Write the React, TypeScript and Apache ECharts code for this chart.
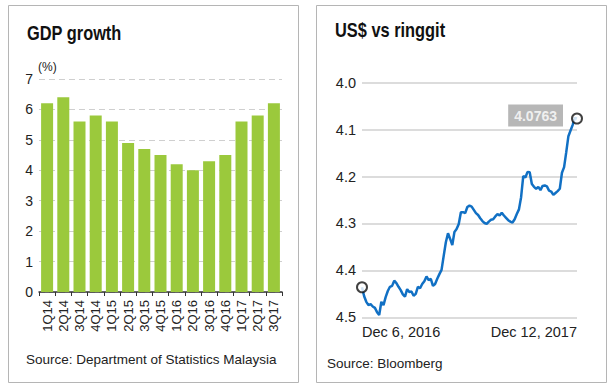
import React, { useEffect, useRef } from "react";
import * as echarts from "echarts";

const gdpQuarters = ["1Q14", "2Q14", "3Q14", "4Q14", "1Q15", "2Q15", "3Q15", "4Q15", "1Q16", "2Q16", "3Q16", "4Q16", "1Q17", "2Q17", "3Q17"];
const gdpGrowth = [6.2, 6.4, 5.6, 5.8, 5.6, 4.9, 4.7, 4.5, 4.2, 4.0, 4.3, 4.5, 5.6, 5.8, 6.2];
const gdpTicks = [0, 1, 2, 3, 4, 5, 6, 7];

const fxAxisLabels = ["Dec 6, 2016", "Dec 12, 2017"];
const fxTicks = [4.0, 4.1, 4.2, 4.3, 4.4, 4.5];
const usdMyr = [
  4.436, 4.455, 4.467, 4.474, 4.472, 4.477, 4.480, 4.489, 4.495, 4.467,
  4.474, 4.457, 4.444, 4.435, 4.433, 4.422, 4.427, 4.435, 4.442, 4.451,
  4.456, 4.440, 4.446, 4.445, 4.454, 4.450, 4.435, 4.438, 4.429, 4.423,
  4.413, 4.421, 4.418, 4.433, 4.429, 4.418, 4.408, 4.399, 4.369, 4.340,
  4.321, 4.333, 4.346, 4.318, 4.312, 4.301, 4.276, 4.276, 4.278, 4.265,
  4.262, 4.264, 4.271, 4.278, 4.282, 4.289, 4.295, 4.299, 4.301, 4.296,
  4.292, 4.291, 4.285, 4.280, 4.283, 4.277, 4.283, 4.288, 4.293, 4.296,
  4.298, 4.291, 4.280, 4.270, 4.244, 4.199, 4.202, 4.190, 4.191, 4.216,
  4.222, 4.226, 4.222, 4.229, 4.220, 4.219, 4.221, 4.230, 4.232, 4.239,
  4.235, 4.231, 4.226, 4.192, 4.180, 4.148, 4.114, 4.102, 4.090, 4.075,
  4.0763,
];

const SANS = "'Liberation Sans', Arial, Helvetica, sans-serif";

export default function App() {
  const ref = useRef<HTMLDivElement>(null);

  useEffect(() => {
    if (!ref.current) return;
    const chart = echarts.init(ref.current, null, { renderer: "svg" });
    const last = usdMyr.length - 1;
    const fxCats = usdMyr.map((_, i) => String(i));

    chart.setOption({
      animation: false,
      backgroundColor: "#ffffff",
      textStyle: { fontFamily: SANS },
      grid: [
        { left: 39, right: 332, top: 79, bottom: 96 },
        { left: 362, right: 37, top: 82.7, bottom: 70.7 },
      ],
      xAxis: [
        {
          type: "category",
          gridIndex: 0,
          data: gdpQuarters,
          boundaryGap: true,
          axisLine: { lineStyle: { color: "#333", width: 1.5 } },
          axisTick: { show: true, length: 4, lineStyle: { color: "#333" } },
          axisLabel: { rotate: 90, margin: 8, fontSize: 13, color: "#222", interval: 0 },
        },
        {
          type: "category",
          gridIndex: 1,
          data: fxCats,
          boundaryGap: false,
          axisLine: { show: false },
          axisTick: { show: false },
          splitLine: { show: false },
          axisLabel: {
            interval: (i: number) => i === 0 || i === last,
            formatter: (_v: string, i: number) => (i === 0 ? fxAxisLabels[0] : fxAxisLabels[1]),
            alignMinLabel: "left",
            alignMaxLabel: "right",
            margin: 7,
            fontSize: 14.5,
            color: "#222",
          },
        },
      ],
      yAxis: [
        {
          type: "value",
          gridIndex: 0,
          min: gdpTicks[0],
          max: gdpTicks[gdpTicks.length - 1],
          interval: 1,
          name: "(%)",
          nameLocation: "end",
          nameGap: 6,
          nameTextStyle: { align: "left", fontSize: 12, color: "#222", padding: [0, 0, 0, -1] },
          axisLine: { show: false },
          axisTick: { show: false },
          axisLabel: { fontSize: 14, color: "#222", margin: 6 },
          splitLine: { lineStyle: { color: "#cfcfcf", type: [6, 4], width: 1 } },
        },
        {
          type: "value",
          gridIndex: 1,
          inverse: true,
          min: fxTicks[0],
          max: fxTicks[fxTicks.length - 1],
          interval: 0.1,
          axisLine: { show: false },
          axisTick: { show: false },
          axisLabel: { fontSize: 14.5, color: "#222", margin: 6, formatter: (v: number) => v.toFixed(1) },
          splitLine: { lineStyle: { color: "#dcdcdc", width: 2 } },
        },
      ],
      series: [
        {
          type: "bar",
          xAxisIndex: 0,
          yAxisIndex: 0,
          data: gdpGrowth,
          barWidth: 12,
          itemStyle: { color: "#9bc93c" },
        },
        {
          type: "line",
          xAxisIndex: 1,
          yAxisIndex: 1,
          data: usdMyr,
          showSymbol: false,
          lineStyle: { color: "#1170c4", width: 2.5 },
          z: 3,
        },
        {
          type: "scatter",
          xAxisIndex: 1,
          yAxisIndex: 1,
          symbol: "circle",
          symbolSize: 10,
          itemStyle: { color: "#ffffff", borderColor: "#111", borderWidth: 2 },
          z: 5,
          data: [
            { value: [0, usdMyr[0]] },
            {
              value: [last, usdMyr[last]],
              label: {
                show: true,
                position: "left",
                distance: 8,
                offset: [0, -3],
                formatter: (p: any) => p.value[1].toFixed(4),
                backgroundColor: "#a5a5a5",
                color: "#ffffff",
                fontWeight: "bold",
                fontSize: 14,
                padding: [4, 6, 4, 6],
              },
            },
          ],
        },
      ],
      graphic: [
        {
          type: "rect",
          shape: { x: 8.5, y: 5.5, width: 290, height: 377 },
          style: { fill: "none", stroke: "#b5b5b5", lineWidth: 1 },
          silent: true,
        },
        {
          type: "rect",
          shape: { x: 316.5, y: 5.5, width: 290, height: 377 },
          style: { fill: "none", stroke: "#b5b5b5", lineWidth: 1 },
          silent: true,
        },
        {
          type: "text",
          x: 27,
          y: 23,
          scaleX: 0.82,
          style: { text: "GDP growth", font: `bold 20px ${SANS}`, fill: "#111", textAlign: "left", textVerticalAlign: "top" },
        },
        {
          type: "text",
          x: 335,
          y: 20,
          scaleX: 0.82,
          style: { text: "US$ vs ringgit", font: `bold 20px ${SANS}`, fill: "#111", textAlign: "left", textVerticalAlign: "top" },
        },
        {
          type: "text",
          left: 26,
          top: 352,
          style: { text: "Source: Department of Statistics Malaysia", font: `13.5px ${SANS}`, fill: "#222" },
        },
        {
          type: "text",
          left: 327,
          top: 356,
          style: { text: "Source: Bloomberg", font: `13.5px ${SANS}`, fill: "#222" },
        },
      ],
    });

    return () => chart.dispose();
  }, []);

  return (
    <div
      ref={ref}
      style={{ position: "absolute", left: 0, top: 0, width: 614, height: 388 }}
    />
  );
}
